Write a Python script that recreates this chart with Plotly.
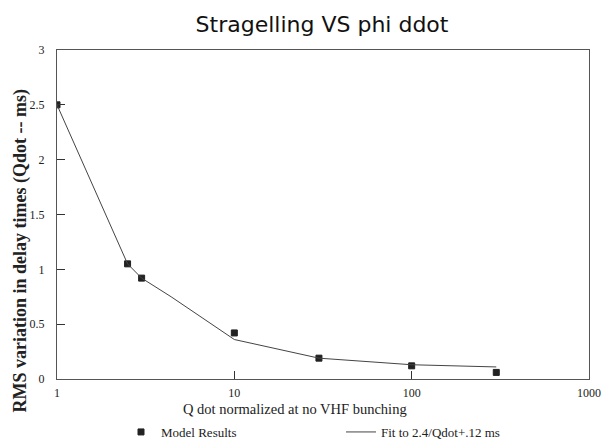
import plotly.graph_objects as go

# Model results (squares)
model_q = [1, 2.5, 3, 10, 30, 100, 300]
model_val = [2.5, 1.05, 0.92, 0.42, 0.19, 0.12, 0.06]

# Fit line (drawn polyline)
fit_q = [1, 2.5, 3, 4.4, 10, 30, 100, 300]
fit_val = [2.5, 1.05, 0.92, 0.75, 0.36, 0.19, 0.13, 0.11]

x_tickvals = [1, 10, 100, 1000]
x_ticktext = ["1", "10", "100", "1000"]
y_tickvals = [0, 0.5, 1, 1.5, 2, 2.5, 3]
y_ticktext = ["0", "0.5", "1", "1.5", "2", "2.5", "3"]

serif = "Liberation Serif, Times New Roman, serif"

# page body has an 8px default margin, so the figure is sized to fit inside it
W, H = 595, 431
L, R, T, B = 49, 14, 42, 60
PW, PH = W - L - R, H - T - B

fig = go.Figure()
fig.add_trace(go.Scatter(
    x=model_q, y=model_val, mode="markers", name="Model Results",
    marker=dict(symbol="square", size=6, color="#222",
                line=dict(color="#222", width=1)),
))
fig.add_trace(go.Scatter(
    x=fit_q, y=fit_val, mode="lines", name="Fit to 2.4/Qdot+.12 ms",
    line=dict(color="#444", width=1),
))

fig.update_layout(
    width=W, height=H,
    margin=dict(l=L, r=R, t=T, b=B, autoexpand=False),
    paper_bgcolor="white", plot_bgcolor="white",
    title=dict(text="Stragelling VS phi ddot", x=314 / W, xanchor="center",
               y=1 - 16 / H, yanchor="middle",
               font=dict(family="DejaVu Sans, Arial, sans-serif", size=22, color="#111")),
    showlegend=True,
    legend=dict(orientation="h", x=(113 - L) / PW, xanchor="left",
                y=-38 / PH, yanchor="top",
                font=dict(family=serif, size=13, color="#222"),
                entrywidth=175, entrywidthmode="pixels",
                bgcolor="rgba(0,0,0,0)", itemwidth=30),
    font=dict(family=serif, color="#222"),
    annotations=[
        dict(text="<b>RMS variation in delay times (Qdot -- ms)</b>",
             textangle=-90, xref="paper", yref="paper",
             x=-L / PW, y=(PH + T - 243) / PH,
             xanchor="left", yanchor="middle", showarrow=False,
             font=dict(family=serif, size=18, color="#222")),
        dict(text="Q dot normalized at no VHF bunching",
             xref="paper", yref="paper",
             x=(287 - L) / PW, y=-30 / PH,
             xanchor="center", yanchor="middle", showarrow=False,
             font=dict(family=serif, size=14.5, color="#222")),
    ],
)

fig.update_xaxes(
    type="log", range=[0, 3], automargin=False,
    tickvals=x_tickvals, ticktext=x_ticktext,
    ticks="inside", ticklen=8, tickcolor="#333",
    showline=True, linecolor="#555", linewidth=1, mirror=True,
    showgrid=False, zeroline=False, ticklabelstandoff=3,
    tickfont=dict(family=serif, size=12, color="#222"),
)
fig.update_yaxes(
    range=[0, 3], automargin=False,
    tickvals=y_tickvals, ticktext=y_ticktext,
    ticks="inside", ticklen=8, tickcolor="#333",
    showline=True, linecolor="#555", linewidth=1, mirror=True,
    showgrid=False, zeroline=False, ticklabelstandoff=9,
    tickfont=dict(family=serif, size=12, color="#222"),
)

fig.write_html("out.html")
